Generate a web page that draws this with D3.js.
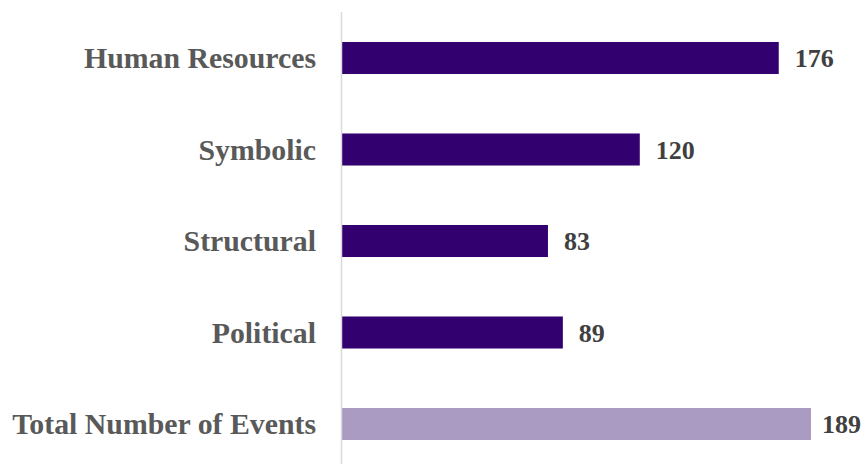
<!DOCTYPE html>
<html>
<head>
<meta charset="utf-8">
<script src="https://cdn.jsdelivr.net/npm/d3@7"></script>
<style>
  html, body { margin: 0; padding: 0; background: #ffffff; }
  svg { display: block; }
</style>
</head>
<body>
<svg id="chart" width="863" height="464"></svg>
<script>
// Event counts by frame
const categories = ["Human Resources", "Symbolic", "Structural", "Political", "Total Number of Events"];
const values = [176, 120, 83, 89, 189];
const barColors = ["#33006f", "#33006f", "#33006f", "#33006f", "#a99bc1"];

const svg = d3.select("#chart");
const width = 863, height = 464;
const left = 342, right = 811;

const x = d3.scaleLinear().domain([0, 189]).range([left, right]);
const y = d3.scaleBand()
  .domain(categories)
  .range([12.25, 469.75])
  .paddingInner(0.65)
  .paddingOuter(0.325);

const font = "'Liberation Serif', 'Times New Roman', serif";

// bars
svg.append("g").selectAll("rect")
  .data(categories)
  .join("rect")
  .attr("x", x(0))
  .attr("y", d => y(d))
  .attr("width", (d, i) => x(values[i]) - x(0))
  .attr("height", y.bandwidth())
  .attr("fill", (d, i) => barColors[i]);

// vertical axis line
svg.append("line")
  .attr("x1", x(0) - 0.5).attr("x2", x(0) - 0.5)
  .attr("y1", 12).attr("y2", height)
  .attr("stroke", "#d9d9d9")
  .attr("stroke-width", 1.5);

// category labels
svg.append("g").selectAll("text")
  .data(categories)
  .join("text")
  .attr("x", 316)
  .attr("y", d => y(d) + y.bandwidth() / 2)
  .attr("dy", "0.35em")
  .attr("text-anchor", "end")
  .attr("font-family", font)
  .attr("font-weight", "bold")
  .attr("font-size", 29.8)
  .attr("fill", "#595959")
  .text(d => d);

// value labels, kept inside the right edge
svg.append("g").selectAll("text")
  .data(categories)
  .join("text")
  .attr("y", d => y(d) + y.bandwidth() / 2)
  .attr("dy", "0.35em")
  .attr("font-family", font)
  .attr("font-weight", "bold")
  .attr("font-size", 26)
  .attr("fill", "#404040")
  .text((d, i) => values[i])
  .attr("x", function (d, i) {
    const w = this.getComputedTextLength();
    return Math.min(x(values[i]) + 16, width - w - 2);
  });
</script>
</body>
</html>
